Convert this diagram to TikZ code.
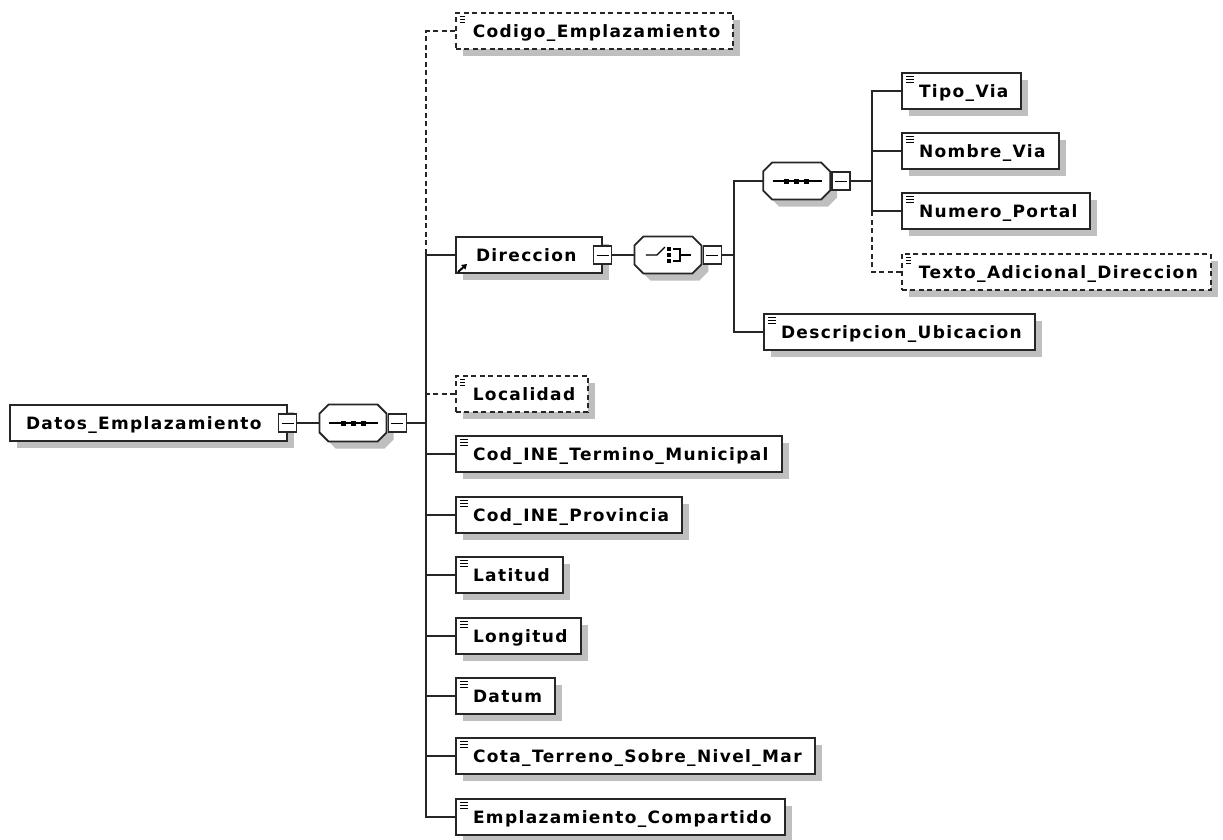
\documentclass[tikz,border=0pt]{standalone}
\usepackage{fontspec}
\newfontfamily\xsdfont{DejaVu Sans}[LetterSpace=8]
\usetikzlibrary{arrows.meta,positioning,shadows}

\tikzset{
  elem/.style={draw=black!85, line width=2pt, fill=white, anchor=west,
    minimum height=36, inner xsep=0pt, inner ysep=0pt,
    text height=15pt, text depth=2.6pt,
    font=\xsdfont\bfseries\fontsize{17}{20}\selectfont,
    drop shadow={shadow xshift=7pt, shadow yshift=-7pt, fill=black!25, opacity=1}},
  leaf/.style={elem,
    execute at begin node=\hspace*{17pt}, execute at end node=\hspace*{13pt},
    path picture={\foreach \dy in {3,6,9}
      \draw[black, line width=1pt] ([shift={(4,\dy)}]path picture bounding box.north west) -- ++(8,0);}},
  optleaf/.style={leaf, line width=1.6pt, dash pattern=on 5pt off 3.5pt},
  rootbox/.style={elem, execute at begin node=\hspace*{16pt}, execute at end node=\hspace*{25pt}},
  refbox/.style={elem, execute at begin node=\hspace*{20pt}, execute at end node=\hspace*{25pt}},
  xbox/.style={draw=black!85, line width=1.4pt, fill=white, minimum size=18, inner sep=0pt,
    path picture={\draw[black, line width=1pt] ([xshift=3pt]path picture bounding box.west)
      -- ([xshift=-3pt]path picture bounding box.east);}},
  comp/.style={minimum width=67, minimum height=37, inner sep=0pt},
  wire/.style={draw=black!85, line width=2pt},
  optwire/.style={wire, line width=1.6pt, dash pattern=on 5pt off 3.5pt},
  % compositor outline with its shadow
  pics/octa/.style={code={
    \fill[black!25, shift={(7,7)}] (-24.5,-18.5) -- (24.5,-18.5) -- (33.5,-9.5) -- (33.5,9.5)
      -- (24.5,18.5) -- (-24.5,18.5) -- (-33.5,9.5) -- (-33.5,-9.5) -- cycle;
    \filldraw[fill=white, draw=black!85, line width=1.8pt] (-24.5,-18.5) -- (24.5,-18.5) -- (33.5,-9.5)
      -- (33.5,9.5) -- (24.5,18.5) -- (-24.5,18.5) -- (-33.5,9.5) -- (-33.5,-9.5) -- cycle;}},
  pics/seqmark/.style={code={
    \pic {octa};
    \draw[black, line width=1.2pt] (-24,0) -- (25,0);
    \foreach \dx in {-10,0,10} \fill[black] (\dx-2.5,-2.5) rectangle (\dx+2.5,2.5);}},
  pics/choicemark/.style={code={
    \pic {octa};
    \draw[black, line width=1.2pt] (-22,0) -- (-11,0) -- (-3,-8);
    \foreach \dy in {-6,0,6} \fill[black] (-1,\dy-2) rectangle (3,\dy+2);
    \draw[black, line width=1.2pt] (5,-6) -- (12,-6) -- (12,6) -- (5,6) (12,0) -- (23,0);}},
}

\begin{document}
\begin{tikzpicture}[x=1pt, y=-1pt]
  \useasboundingbox[fill=white] (0,0) rectangle (1223,839);

  % root element and its sequence
  \node[rootbox] (root) at (9,423) {Datos\_Emplazamiento};
  \node[xbox] (rootx) at (root.east) {};
  \node[comp, right=22pt of rootx] (seq) {};
  \pic at (seq) {seqmark};
  \node[xbox, right=1pt of seq] (seqx) {};
  \coordinate (t1) at (426,423);

  % children of the sequence
  \node[optleaf] (codigo) at (455,31) {Codigo\_Emplazamiento};
  \node[refbox] (dir) at (455,255) {Direccion};
  \node[xbox] (dirx) at (dir.east) {};
  \draw[-{Triangle[length=5pt,width=6pt]}, black, line width=2pt] ([shift={(3,-2)}]dir.south west) -- ++(9,-8);
  \node[optleaf] (loc) at (455,394) {Localidad};
  \node[leaf] (tm) at (455,454) {Cod\_INE\_Termino\_Municipal};
  \node[leaf] (prov) at (455,515) {Cod\_INE\_Provincia};
  \node[leaf] (lat) at (455,575) {Latitud};
  \node[leaf] (lon) at (455,636) {Longitud};
  \node[leaf] (datum) at (455,696) {Datum};
  \node[leaf] (cota) at (455,756) {Cota\_Terreno\_Sobre\_Nivel\_Mar};
  \node[leaf] (empl) at (455,817) {Emplazamiento\_Compartido};

  % Direccion: choice
  \node[comp, right=22pt of dirx] (cho) {};
  \pic at (cho) {choicemark};
  \node[xbox, right=1pt of cho] (chox) {};
  \coordinate (t2) at (734,255);
  \node[comp, anchor=west] (seq2) at (763,181) {};
  \pic at (seq2) {seqmark};
  \node[xbox, right=1pt of seq2] (seq2x) {};
  \coordinate (t3) at (872,181);
  \node[leaf] (desc) at (763,332) {Descripcion\_Ubicacion};

  % street address
  \node[leaf] (tipo) at (901,91) {Tipo\_Via};
  \node[leaf] (nombre) at (901,151) {Nombre\_Via};
  \node[leaf] (numero) at (901,211) {Numero\_Portal};
  \node[optleaf] (texto) at (901,272) {Texto\_Adicional\_Direccion};

  % connectors
  \draw[wire] (rootx) -- (seq);
  \draw[wire] (seqx) -- (t1);
  \draw[optwire] (codigo.west) -| (t1 |- dir.west);
  \draw[wire] (dir.west) -| (t1 |- empl.west) -- (empl.west);
  \draw[optwire] (loc.west) -- (loc.west -| t1);
  \foreach \n in {tm,prov,lat,lon,datum,cota}
    \draw[wire] (\n.west) -- (\n.west -| t1);

  \draw[wire] (dirx) -- (cho);
  \draw[wire] (chox) -- (t2);
  \draw[wire] (seq2.west) -| (t2 |- desc.west) -- (desc.west);
  \draw[wire] (seq2x) -- (t3);
  \draw[wire] (tipo.west) -| (t3 |- numero.west) -- (numero.west);
  \draw[wire] (nombre.west) -- (nombre.west -| t3);
  \draw[optwire] (texto.west) -| (t3 |- numero.west);
\end{tikzpicture}
\end{document}
